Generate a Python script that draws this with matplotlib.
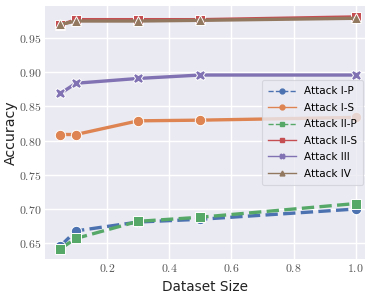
import matplotlib
matplotlib.use("Agg")
import matplotlib.pyplot as plt
from matplotlib.lines import Line2D
from matplotlib.ticker import FuncFormatter, FixedLocator

sizes = [0.05, 0.1, 0.3, 0.5, 1.0]
series_names = ["Attack I-P", "Attack I-S", "Attack II-P", "Attack II-S", "Attack III", "Attack IV"]
acc_1p = [0.646, 0.668, 0.681, 0.685, 0.700]
acc_1s = [0.809, 0.809, 0.829, 0.830, 0.834]
acc_2p = [0.642, 0.657, 0.682, 0.688, 0.708]
acc_2s = [0.969, 0.977, 0.977, 0.977, 0.981]
acc_3 = [0.869, 0.884, 0.891, 0.896, 0.896]
acc_4 = [0.970, 0.975, 0.975, 0.976, 0.979]
xticks = [0.2, 0.4, 0.6, 0.8, 1.0]
yticks = [0.65, 0.70, 0.75, 0.80, 0.85, 0.90, 0.95]

colors = ["#4C72B0", "#DD8452", "#55A868", "#C44E52", "#8172B3", "#937860"]
markers = ["o", "o", "s", "s", "X", "^"]
styles = ["--", "-", "--", "-", "-", "-"]
values = [acc_1p, acc_1s, acc_2p, acc_2s, acc_3, acc_4]

plt.rcParams["mathtext.fontset"] = "cm"

fig = plt.figure(figsize=(3.74, 2.99), dpi=100)
ax = fig.add_axes([0.120, 0.134, 0.856, 0.846])
ax.set_facecolor("#EAEAF2")
for s in ax.spines.values():
    s.set_visible(False)
ax.grid(True, color="white", linewidth=1.0)
ax.set_axisbelow(True)

for name, vals, c, m, ls in zip(series_names, values, colors, markers, styles):
    ax.plot(sizes, vals, color=c, linestyle=ls, linewidth=2.4, marker=m,
            markersize=7.5, markeredgecolor="white", markeredgewidth=0.7, zorder=3)

ax.set_xlim(0.0, 1.03)
ax.set_ylim(0.627, 0.997)
ax.xaxis.set_major_locator(FixedLocator(xticks))
ax.yaxis.set_major_locator(FixedLocator(yticks))
ax.xaxis.set_major_formatter(FuncFormatter(lambda v, p: f"${v:.1f}$"))
ax.yaxis.set_major_formatter(FuncFormatter(lambda v, p: f"${v:.2f}$"))
ax.tick_params(axis="both", length=0, labelsize=8.5, colors="#555555", pad=2.5)
ax.set_xlabel("Dataset Size", fontsize=9.8, color="#222222")
ax.set_ylabel("Accuracy", fontsize=10.2, color="#222222")
ax.yaxis.set_label_coords(-0.084, 0.5)
ax.xaxis.set_label_coords(0.5, -0.085)

handles = [Line2D([0], [0], color=c, linestyle=ls, linewidth=1.0, marker=m,
                  markersize=3.5, markeredgecolor=c)
           for c, m, ls in zip(colors, markers, styles)]
leg = ax.legend(handles, series_names, loc="center right", bbox_to_anchor=(1.0, 0.50),
                fontsize=7.5, frameon=True, facecolor="#EAEAF2", edgecolor="#D0D0D8",
                framealpha=0.8, handlelength=2.7, handletextpad=0.7, borderpad=0.6,
                labelspacing=0.62, borderaxespad=0.2)
leg.get_frame().set_linewidth(0.8)

fig.savefig("out.png", dpi=100)
